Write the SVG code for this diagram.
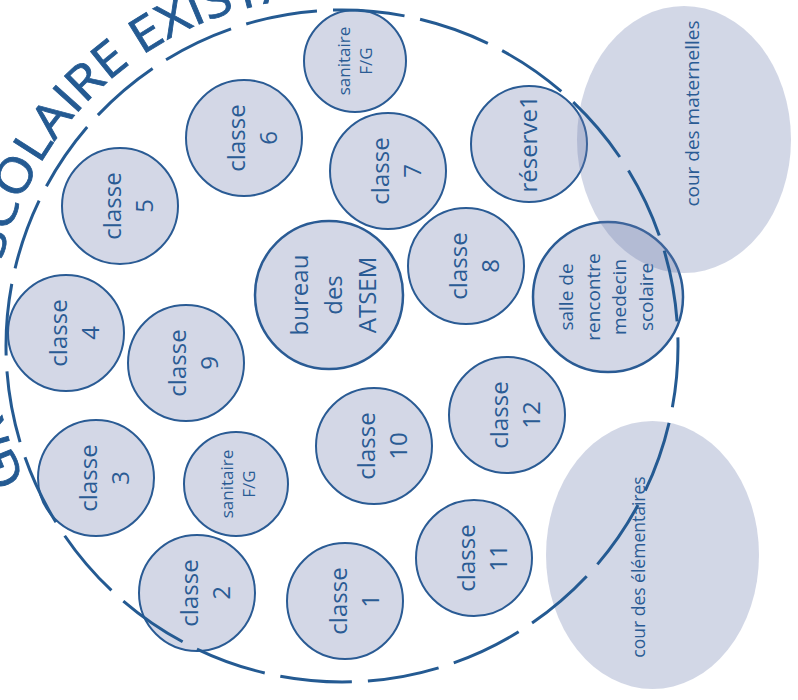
<svg xmlns="http://www.w3.org/2000/svg" xmlns:xlink="http://www.w3.org/1999/xlink" width="798" height="700" viewBox="0 0 798 700">
<style>
.n{fill:#d3d7e6;stroke:#2a5b94;stroke-width:2}
.nb{fill:#d3d7e6;stroke:#2a5b94;stroke-width:2.5}
.t{font-family:"Open Sans","Noto Sans",sans-serif;fill:#2a5b94;text-anchor:middle}
.c{font-size:24px}
.s{font-size:17px}
.yard{fill:#6a7aac;fill-opacity:0.3}
.bound{fill:none;stroke:#245a92;stroke-width:3;stroke-dasharray:72 16;stroke-dashoffset:10.4}
.title{font-family:"Open Sans","Noto Sans",sans-serif;font-size:48px;fill:#245a92;stroke:#245a92;stroke-width:0.8}
</style>
<defs>
<path id="arc" d="M 81.6 564.5 A 339 339 0 0 1 560.5 85.6" fill="none"/>
</defs>
<rect width="798" height="700" fill="#ffffff"/>
<g id="nodes">
<g id="sanitaire-haut"><circle class="n" cx="355" cy="61" r="51"/><text class="t s" transform="translate(355 61) rotate(-90)"><tspan x="0" y="-5">sanitaire</tspan><tspan x="0" y="17">F/G</tspan></text></g>
<g id="classe6"><circle class="n" cx="244" cy="138" r="58"/><text class="t c" transform="translate(244 138) rotate(-90)"><tspan x="0" y="1">classe</tspan><tspan x="0" y="33">6</tspan></text></g>
<g id="classe5"><circle class="n" cx="120" cy="206" r="58"/><text class="t c" transform="translate(120 206) rotate(-90)"><tspan x="0" y="1">classe</tspan><tspan x="0" y="33">5</tspan></text></g>
<g id="classe7"><circle class="n" cx="388" cy="171" r="58"/><text class="t c" transform="translate(388 171) rotate(-90)"><tspan x="0" y="1">classe</tspan><tspan x="0" y="33">7</tspan></text></g>
<g id="reserve1"><circle class="n" cx="529" cy="144" r="58"/><text class="t c" transform="translate(529 144) rotate(-90)"><tspan x="0" y="8">réserve1</tspan></text></g>
<g id="salle"><circle class="nb" cx="608" cy="297" r="75"/><text class="t" font-size="19" transform="translate(608 297) rotate(-90)"><tspan x="0" y="-35">salle de</tspan><tspan x="0" y="-8.5">rencontre</tspan><tspan x="0" y="18">medecin</tspan><tspan x="0" y="44.5">scolaire</tspan></text></g>
<g id="bureau"><circle class="nb" cx="329" cy="295" r="74"/><text class="t c" transform="translate(329 295) rotate(-90)"><tspan x="0" y="-21">bureau</tspan><tspan x="0" y="13">des</tspan><tspan x="0" y="47">ATSEM</tspan></text></g>
<g id="classe8"><circle class="n" cx="466" cy="266" r="58"/><text class="t c" transform="translate(466 266) rotate(-90)"><tspan x="0" y="1">classe</tspan><tspan x="0" y="33">8</tspan></text></g>
<g id="classe4"><circle class="n" cx="66" cy="333" r="58"/><text class="t c" transform="translate(66 333) rotate(-90)"><tspan x="0" y="1">classe</tspan><tspan x="0" y="33">4</tspan></text></g>
<g id="classe9"><circle class="n" cx="186" cy="363" r="58"/><text class="t c" transform="translate(186 363) rotate(-90)"><tspan x="0" y="0">classe</tspan><tspan x="0" y="32">9</tspan></text></g>
<g id="classe12"><circle class="n" cx="507" cy="415" r="58"/><text class="t c" transform="translate(507 415) rotate(-90)"><tspan x="0" y="1">classe</tspan><tspan x="0" y="33">12</tspan></text></g>
<g id="classe10"><circle class="n" cx="374" cy="446" r="58"/><text class="t c" transform="translate(374 446) rotate(-90)"><tspan x="0" y="1">classe</tspan><tspan x="0" y="33">10</tspan></text></g>
<g id="classe3"><circle class="n" cx="96" cy="478" r="58"/><text class="t c" transform="translate(96 478) rotate(-90)"><tspan x="0" y="1">classe</tspan><tspan x="0" y="33">3</tspan></text></g>
<g id="sanitaire-bas"><circle class="n" cx="236" cy="484" r="52"/><text class="t s" transform="translate(236 484) rotate(-90)"><tspan x="0" y="-3">sanitaire</tspan><tspan x="0" y="19">F/G</tspan></text></g>
<g id="classe2"><circle class="n" cx="197" cy="593" r="58"/><text class="t c" transform="translate(197 593) rotate(-90)"><tspan x="0" y="1">classe</tspan><tspan x="0" y="33">2</tspan></text></g>
<g id="classe1"><circle class="n" cx="345" cy="601" r="58"/><text class="t c" transform="translate(345 601) rotate(-90)"><tspan x="0" y="2">classe</tspan><tspan x="0" y="34">1</tspan></text></g>
<g id="classe11"><circle class="n" cx="474" cy="558" r="58"/><text class="t c" transform="translate(474 558) rotate(-90)"><tspan x="0" y="1">classe</tspan><tspan x="0" y="33">11</tspan></text></g>
<g id="cour-maternelles"><ellipse class="yard" cx="684" cy="139.5" rx="107" ry="133.5"/><text class="t" font-size="19" transform="translate(699 113.5) rotate(-90)">cour des maternelles</text></g>
<g id="cour-elementaires"><ellipse class="yard" cx="652.5" cy="555" rx="106.5" ry="134"/><text class="t" font-size="17.5" transform="translate(645 567) rotate(-90)">cour des élémentaires</text></g>
</g>
<g id="connectors"></g>
<g id="boundary">
<circle class="bound" cx="342" cy="346" r="336"/>
<text class="title"><textPath xlink:href="#arc" href="#arc" startOffset="101" textLength="715" lengthAdjust="spacingAndGlyphs">GROUPE SCOLAIRE EXISTANT</textPath></text>
</g>
</svg>
